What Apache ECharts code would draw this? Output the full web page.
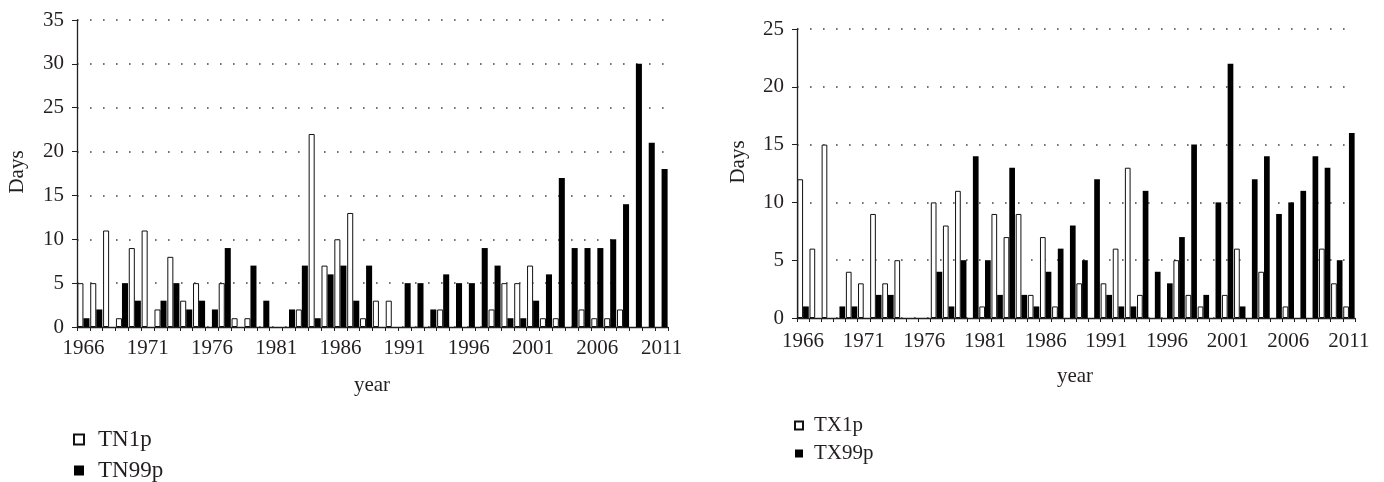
<!DOCTYPE html>
<html>
<head>
<meta charset="utf-8">
<style>
  html, body { margin: 0; padding: 0; background: #fff; }
  #chart { width: 1384px; height: 482px; }
</style>
<script src="https://cdn.jsdelivr.net/npm/echarts@6/dist/echarts.min.js"></script>
</head>
<body>
<div id="chart"></div>
<script>
// Years shared by both panels
const years = ['1966','1967','1968','1969','1970','1971','1972','1973','1974','1975',
  '1976','1977','1978','1979','1980','1981','1982','1983','1984','1985',
  '1986','1987','1988','1989','1990','1991','1992','1993','1994','1995',
  '1996','1997','1998','1999','2000','2001','2002','2003','2004','2005',
  '2006','2007','2008','2009','2010','2011'];

// Cold nights / warm nights (days per year)
const tn1p  = [5,5,11,1,9,11,2,8,3,5, 0,5,1,1,0,0,0,2,22,7, 10,13,1,3,3,0,0,0,2,0, 0,0,2,5,5,7,1,1,0,2, 1,1,2,0,0,0];
const tn99p = [1,2,0,5,3,0,3,5,2,3, 2,9,0,7,3,0,2,7,1,6, 7,3,7,0,0,5,5,2,6,5, 5,9,7,1,1,3,6,17,9,9, 9,10,14,30,21,18];

// Cold days / warm days (days per year)
const tx1p  = [12,6,15,0,4,3,9,3,5,0, 0,10,8,11,0,1,9,7,9,2, 7,1,0,3,0,3,6,13,2,0, 0,5,2,1,0,2,6,0,4,0, 1,0,0,6,3,1];
const tx99p = [1,0,0,1,1,0,2,2,0,0, 0,4,1,5,14,5,2,13,2,1, 4,6,8,5,12,2,1,1,11,4, 3,7,15,2,10,22,1,12,14,9, 10,11,14,13,5,16];

// Axis settings
const leftTicks  = { min: 0, max: 35, interval: 5 };
const rightTicks = { min: 0, max: 25, interval: 5 };

const FONT = '"Liberation Serif", "DejaVu Serif", serif';
const INK = '#231f20';

function xAxisFor(gridIndex, labelMargin) {
  return {
    type: 'category',
    gridIndex: gridIndex,
    data: years,
    boundaryGap: true,
    axisLine: { show: true, lineStyle: { color: INK, width: 1.3 } },
    axisTick: { show: true, interval: 0, length: 4, lineStyle: { color: INK, width: 1 } },
    axisLabel: { interval: 4, margin: labelMargin, color: INK, fontFamily: FONT, fontSize: 21 },
    splitLine: { show: false }
  };
}

function yAxisFor(gridIndex, ticks) {
  return {
    type: 'value',
    gridIndex: gridIndex,
    min: ticks.min,
    max: ticks.max,
    interval: ticks.interval,
    axisLine: { show: true, lineStyle: { color: INK, width: 1.3 } },
    axisTick: { show: true, length: 5, lineStyle: { color: INK, width: 1 } },
    axisLabel: { margin: 13, color: INK, fontFamily: FONT, fontSize: 21 },
    splitLine: { show: true, lineStyle: { color: '#444', width: 1.6, type: [1.6, 11.4] } }
  };
}

const whiteBar = { color: '#ffffff', borderColor: '#111', borderWidth: 1 };
const blackBar = { color: '#000000', borderColor: '#000', borderWidth: 0 };

// Zero-day years get no outline, so no hairline sits on the axis
function barData(values) {
  return values.map(v => v === 0 ? { value: 0, itemStyle: { borderWidth: 0 } } : v);
}

function barSeries(name, values, axisIndex, style) {
  return {
    name: name,
    type: 'bar',
    xAxisIndex: axisIndex,
    yAxisIndex: axisIndex,
    data: barData(values),
    barGap: '0%',
    barCategoryGap: '6%',
    itemStyle: style,
    emphasis: { disabled: true },
    animation: false
  };
}

const chart = echarts.init(document.getElementById('chart'), null, { renderer: 'canvas' });

chart.setOption({
  backgroundColor: '#ffffff',
  animation: false,
  grid: [
    { left: 77, top: 20, width: 591, height: 307 },
    { left: 797, top: 29, width: 558, height: 289 }
  ],
  xAxis: [xAxisFor(0, 11), xAxisFor(1, 13)],
  yAxis: [yAxisFor(0, leftTicks), yAxisFor(1, rightTicks)],
  legend: [
    {
      data: ['TN1p', 'TN99p'],
      orient: 'vertical',
      left: 73, top: 428, padding: 0,
      itemWidth: 10, itemHeight: 10, itemGap: 8,
      icon: 'rect',
      selectedMode: false,
      textStyle: { color: INK, fontFamily: FONT, fontSize: 23, lineHeight: 22, padding: [0, 0, 0, 9] }
    },
    {
      data: ['TX1p', 'TX99p'],
      orient: 'vertical',
      left: 794, top: 415, padding: 0,
      itemWidth: 8, itemHeight: 8, itemGap: 7,
      icon: 'rect',
      selectedMode: false,
      textStyle: { color: INK, fontFamily: FONT, fontSize: 21, lineHeight: 20, padding: [0, 0, 0, 6] }
    }
  ],
  graphic: [
    { type: 'text', x: 17, y: 172, rotation: Math.PI / 2,
      style: { text: 'Days', fill: INK, font: '21px ' + FONT, align: 'center', verticalAlign: 'middle' } },
    { type: 'text', x: 372, y: 385,
      style: { text: 'year', fill: INK, font: '21px ' + FONT, align: 'center', verticalAlign: 'middle' } },
    { type: 'text', x: 738, y: 162, rotation: Math.PI / 2,
      style: { text: 'Days', fill: INK, font: '21px ' + FONT, align: 'center', verticalAlign: 'middle' } },
    { type: 'text', x: 1075, y: 376,
      style: { text: 'year', fill: INK, font: '21px ' + FONT, align: 'center', verticalAlign: 'middle' } }
  ],
  series: [
    barSeries('TN1p', tn1p, 0, whiteBar),
    barSeries('TN99p', tn99p, 0, blackBar),
    barSeries('TX1p', tx1p, 1, whiteBar),
    barSeries('TX99p', tx99p, 1, blackBar)
  ]
});
</script>
</body>
</html>
